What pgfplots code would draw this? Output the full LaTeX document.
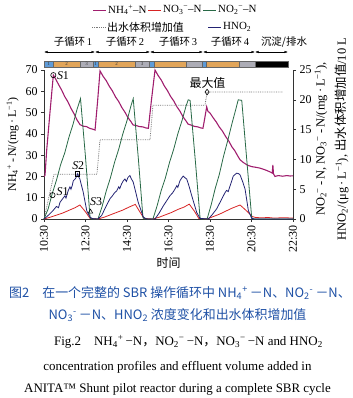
\documentclass[border=0pt]{standalone}
\usepackage{pgfplots}
\pgfplotsset{compat=1.18}
\usepackage{fontspec}
\setmainfont{Liberation Serif}
\newfontfamily\cjk{Noto Sans CJK SC}
\usetikzlibrary{arrows.meta}
\definecolor{cNH}{RGB}{160,30,110}
\definecolor{cNOtwo}{RGB}{40,105,70}
\definecolor{cHNO}{RGB}{35,35,115}
\definecolor{cNOthree}{RGB}{215,35,35}
\definecolor{cEff}{RGB}{120,120,120}
\definecolor{barblue}{RGB}{95,155,215}
\definecolor{barorange}{RGB}{225,165,90}
\definecolor{bargray}{RGB}{172,172,182}
\definecolor{capblue}{RGB}{30,80,165}
\newcommand\subsup[2]{\textsubscript{#1}\textsuperscript{#2}}
\newcommand\fs[1]{\fontsize{#1}{#1}\selectfont}
\begin{document}
\begin{tikzpicture}[x=1bp,y=1bp]
\path[use as bounding box] (0,0) rectangle (353,398);
\pgfplotsset{base/.style={at={(44bp,179bp)}, anchor=south west, scale only axis,
  width=249bp, height=149bp, xmin=10.5, xmax=22.5, clip=false,
  tick align=outside, major tick length=3bp,
  axis line style={black!80, line width=0.6pt}, tick style={black!80, line width=0.5pt},
  /pgf/number format/assume math mode=true,
  ticklabel style={font=\fs{12}}, label style={font=\fs{12}}}}
\begin{axis}[base, ymin=0, ymax=70,
  axis x line*=bottom, axis y line*=left,
  xtick={10.5,12.5,14.5,16.5,18.5,20.5,22.5},
  xticklabels={10:30,12:30,14:30,16:30,18:30,20:30,22:30},
  xticklabel style={rotate=90, anchor=east},
  ytick={0,10,...,70},
  ylabel={NH\subsup{4}{+}\,-\,N/(mg\,·\,L\textsuperscript{−1})},
  xlabel={{\cjk 时间}}, xlabel style={yshift=2bp}]
\addplot[cNH, line width=1.1pt] coordinates {(10.50,20.0)(10.55,20.6)(10.60,28.0)(10.63,32.4)(10.79,50.3)(10.95,67.6)(11.05,66.0)(11.20,63.2)(11.35,60.6)(11.50,57.5)(11.65,55.1)(11.80,52.0)(11.95,49.4)(12.10,46.4)(12.24,44.3)(12.40,43.6)(12.55,43.4)(12.70,42.6)(12.85,42.2)(12.96,41.8)(13.08,55.0)(13.20,69.6)(13.35,67.0)(13.50,65.0)(13.65,62.3)(13.80,60.1)(13.95,57.3)(14.10,55.2)(14.25,52.4)(14.40,50.2)(14.55,47.6)(14.70,45.6)(14.79,44.2)(14.95,43.9)(15.10,43.4)(15.25,43.3)(15.40,42.8)(15.53,42.6)(15.68,56.0)(15.85,70.0)(16.00,67.4)(16.15,65.3)(16.30,62.5)(16.45,60.3)(16.60,57.6)(16.75,55.5)(16.90,52.8)(17.05,50.7)(17.20,48.0)(17.35,46.0)(17.44,44.6)(17.60,44.1)(17.75,43.5)(17.90,43.3)(18.05,42.8)(18.16,42.6)(18.25,47.5)(18.34,52.7)(18.40,50.6)(18.50,49.8)(18.65,47.6)(18.80,45.6)(18.95,43.2)(19.10,41.3)(19.25,38.8)(19.40,36.7)(19.55,34.0)(19.70,32.0)(19.85,29.4)(19.95,27.8)(20.10,26.6)(20.30,25.3)(20.51,24.6)(20.70,24.3)(20.91,23.9)(21.10,23.3)(21.23,22.8)(21.40,22.1)(21.50,21.6)(21.53,25.4)(21.56,21.2)(21.63,20.0)(21.80,20.4)(22.00,20.1)(22.20,20.4)(22.36,20.2)(22.50,20.3)};
\addplot[only marks, mark=o, mark size=2.6bp, black, line width=0.6pt] coordinates {(10.95,67.6)};
\node[anchor=west, inner sep=1pt, font=\fs{12}] at (axis cs:11.07,67.4) {\textit{S}1};
\end{axis}
\begin{axis}[base, ymin=0, ymax=25,
  axis x line=none, axis y line*=right, yticklabel pos=right,
  ytick={0,5,...,25}]
\addplot[cEff, densely dotted, line width=0.8pt] coordinates {(10.50,0)(10.98,7.5)(13.05,7.5)(13.20,13.3)(15.61,13.3)(15.75,19.1)(18.26,19.1)(18.36,21.3)(22.00,21.3)};
\addplot[cNOthree, line width=0.8pt] coordinates {(10.50,0)(10.80,0.3)(11.10,0.65)(11.40,1.0)(11.70,1.45)(12.00,1.9)(12.23,2.35)(12.50,1.2)(12.72,0.1)(13.10,0)(13.40,0.3)(13.70,0.7)(14.00,1.1)(14.30,1.5)(14.60,2.0)(14.90,2.45)(15.10,1.3)(15.32,0.1)(15.75,0)(16.05,0.3)(16.35,0.7)(16.65,1.1)(16.95,1.6)(17.25,2.0)(17.50,2.5)(17.75,1.3)(17.96,0.1)(18.36,0)(18.65,0.4)(18.95,0.8)(19.25,1.3)(19.55,1.8)(19.95,2.35)(20.25,1.4)(20.55,0.4)(20.70,0.25)(21.00,0.2)(21.30,0.25)(21.60,0.15)(21.90,0.2)(22.20,0.2)(22.50,0.15)};
\addplot[cNOtwo, line width=0.8pt] coordinates {(10.50,0)(10.70,1.7)(10.90,4.3)(11.10,6.5)(11.30,9.1)(11.50,11.1)(11.70,13.7)(11.90,15.9)(12.10,18.5)(12.26,20.2)(12.50,10.4)(12.72,0.2)(12.80,0)(13.10,0)(13.30,2.1)(13.50,4.7)(13.70,6.9)(13.90,9.5)(14.10,11.7)(14.30,14.3)(14.50,16.5)(14.70,19.1)(14.80,20.2)(15.05,10.0)(15.27,0.2)(15.35,0)(15.75,0)(15.95,2.2)(16.15,4.8)(16.35,6.9)(16.55,9.5)(16.75,11.7)(16.95,14.3)(17.15,16.5)(17.35,19.0)(17.45,20.0)(17.54,19.9)(17.80,9.5)(18.02,0.2)(18.10,0)(18.36,0)(18.55,2.3)(18.75,5.1)(18.95,7.5)(19.15,10.5)(19.35,13.1)(19.55,15.9)(19.75,18.5)(19.86,20.0)(20.03,19.9)(20.27,10.0)(20.51,0.2)(20.60,0)(22.50,0)};
\addplot[cHNO, line width=0.8pt] coordinates {(10.50,0)(10.70,0.6)(10.93,1.4)(11.10,2.1)(11.20,1.9)(11.27,2.8)(11.40,3.4)(11.51,3.9)(11.56,3.5)(11.66,4.7)(11.75,5.4)(11.80,5.0)(11.86,5.6)(11.91,6.4)(12.00,6.7)(12.05,7.0)(12.12,7.6)(12.18,7.0)(12.23,6.7)(12.39,4.5)(12.56,1.4)(12.72,0.3)(12.85,0.05)(13.10,0)(13.28,0.6)(13.50,2.2)(13.68,3.4)(13.80,3.9)(13.90,4.4)(14.00,4.7)(14.10,5.4)(14.15,5.1)(14.24,5.9)(14.32,6.4)(14.40,6.7)(14.47,6.3)(14.55,7.0)(14.64,7.3)(14.70,6.8)(14.80,6.2)(15.04,2.8)(15.29,0.3)(15.45,0)(15.85,0)(16.05,1.0)(16.25,2.2)(16.40,3.0)(16.57,3.9)(16.70,4.4)(16.81,5.0)(16.90,5.6)(16.95,5.3)(17.05,6.4)(17.12,6.8)(17.21,7.2)(17.30,6.9)(17.38,6.7)(17.50,5.4)(17.62,3.9)(17.86,1.1)(18.02,0.1)(18.42,0)(18.60,0.7)(18.82,1.7)(19.00,2.9)(19.22,4.4)(19.30,4.8)(19.38,4.6)(19.46,5.5)(19.55,6.4)(19.62,7.2)(19.72,7.5)(19.79,7.7)(19.88,7.6)(19.95,7.4)(20.08,6.2)(20.19,5.0)(20.35,1.4)(20.51,0.1)(20.65,0)(22.50,0)};
\addplot[only marks, mark=o, mark size=2.6bp, black, line width=0.6pt] coordinates {(10.91,4.0)};
\addplot[only marks, mark=square, mark size=2.3bp, black, line width=0.6pt] coordinates {(12.11,7.6)};
\addplot[only marks, mark=triangle, mark size=2.6bp, black, line width=0.6pt] coordinates {(12.74,1.2)};
\addplot[only marks, mark=diamond, mark size=2.8bp, black, line width=0.6pt] coordinates {(18.36,21.3)};
\node[anchor=west, inner sep=1pt, font=\fs{12}] at (axis cs:11.05,4.6) {\textit{S}1};
\node[font=\fs{12}] at (axis cs:12.15,9.0) {\textit{S}2};
\node[anchor=west, inner sep=1pt, font=\fs{12}] at (axis cs:12.67,2.9) {\textit{S}3};
\node[font=\cjk\fs{12}] at (axis cs:18.38,22.9) {最大值};
\end{axis}
% right axis label
\node[rotate=90, align=center, font=\fs{12.5}, inner sep=0] at (331.5,259)
  {NO\subsup{2}{−}\,-\,N, NO\subsup{3}{−}\,-\,N/(mg\,·\,L\textsuperscript{−1}),\\[7bp]
   HNO\textsubscript{2}/(μg\,·\,L\textsuperscript{−1}), {\cjk 出水体积增加值}/10 L};
% phase bar
\foreach \a/\b/\c in {44/53/barblue,53/80/barorange,80/93/bargray,93/98/barblue,98/135/barorange,135/149/bargray,149/154/barblue,154/186/barorange,186/202/bargray,202/206/barblue,206/239/barorange,239/255/bargray,255/288/black}
  \filldraw[fill=\c, draw=black!60, line width=0.3pt] (\a,331) rectangle (\b,337);
\foreach \x/\t in {48.5/1,66.5/2,86.5/3,95.5/1,116.5/2,142/3}
  \node[font=\fs{5}, inner sep=0, text=black!80] at (\x,334) {\t};
% sub-cycle arrows
\foreach \a/\b in {44/95,95/150,150/203,203/255,255/288}
  \draw[{Latex[length=3.5bp,width=2.5bp]}-{Latex[length=3.5bp,width=2.5bp]}, line width=0.5pt] (\a,346) -- (\b,346);
\node[font=\fs{10.5}] at (73,356) {{\cjk 子循环}\,1};
\node[font=\fs{10.5}] at (125,356) {{\cjk 子循环}\,2};
\node[font=\fs{10.5}] at (178,356) {{\cjk 子循环}\,3};
\node[font=\fs{10.5}] at (230,356) {{\cjk 子循环}\,4};
\node[font=\cjk\fs{10.5}] at (284,356) {沉淀/排水};
% legend
\draw[cNH, line width=1pt] (93,388) -- (106,388);
\node[anchor=west, inner sep=1pt, font=\fs{11}] at (107,388) {NH\subsup{4}{+}–N};
\draw[cNOthree, line width=1pt] (148,388) -- (161,388);
\node[anchor=west, inner sep=1pt, font=\fs{11}] at (162,388) {NO\subsup{3}{−}–N};
\draw[cNOtwo, line width=1pt] (203,388) -- (216,388);
\node[anchor=west, inner sep=1pt, font=\fs{11}] at (217,388) {NO\subsup{2}{−}–N};
\draw[cEff, densely dotted, line width=0.8pt] (92,371) -- (105,371);
\node[anchor=west, inner sep=1pt, font=\cjk\fs{11}] at (106,371) {出水体积增加值};
\draw[cHNO, line width=1pt] (208,371) -- (221,371);
\node[anchor=west, inner sep=1pt, font=\fs{11}] at (222,371) {HNO\textsubscript{2}};
% caption
\node[font=\cjk\fs{13}, text=capblue, inner sep=0] at (180,105) {图2\hspace{1em}在一个完整的 SBR 操作循环中 NH\subsup{4}{+}\,－N、NO\subsup{2}{-}\,－N、};
\node[font=\cjk\fs{13}, text=capblue, inner sep=0] at (177.5,83) {NO\subsup{3}{-}\,－N、HNO\textsubscript{2} 浓度变化和出水体积增加值};
\node[font=\fs{13}, inner sep=0] at (188.5,56) {Fig.2\hspace{1em}NH\subsup{4}{+}\,−N{\cjk ，}NO\subsup{2}{−}\,−N{\cjk ，}NO\subsup{3}{−}\,−N and HNO\textsubscript{2}};
\node[font=\fs{13}, inner sep=0] at (177.5,31) {concentration profiles and effluent volume added in};
\node[font=\fs{13}, inner sep=0] at (177.5,9) {ANITA™ Shunt pilot reactor during a complete SBR cycle};
\end{tikzpicture}
\end{document}
